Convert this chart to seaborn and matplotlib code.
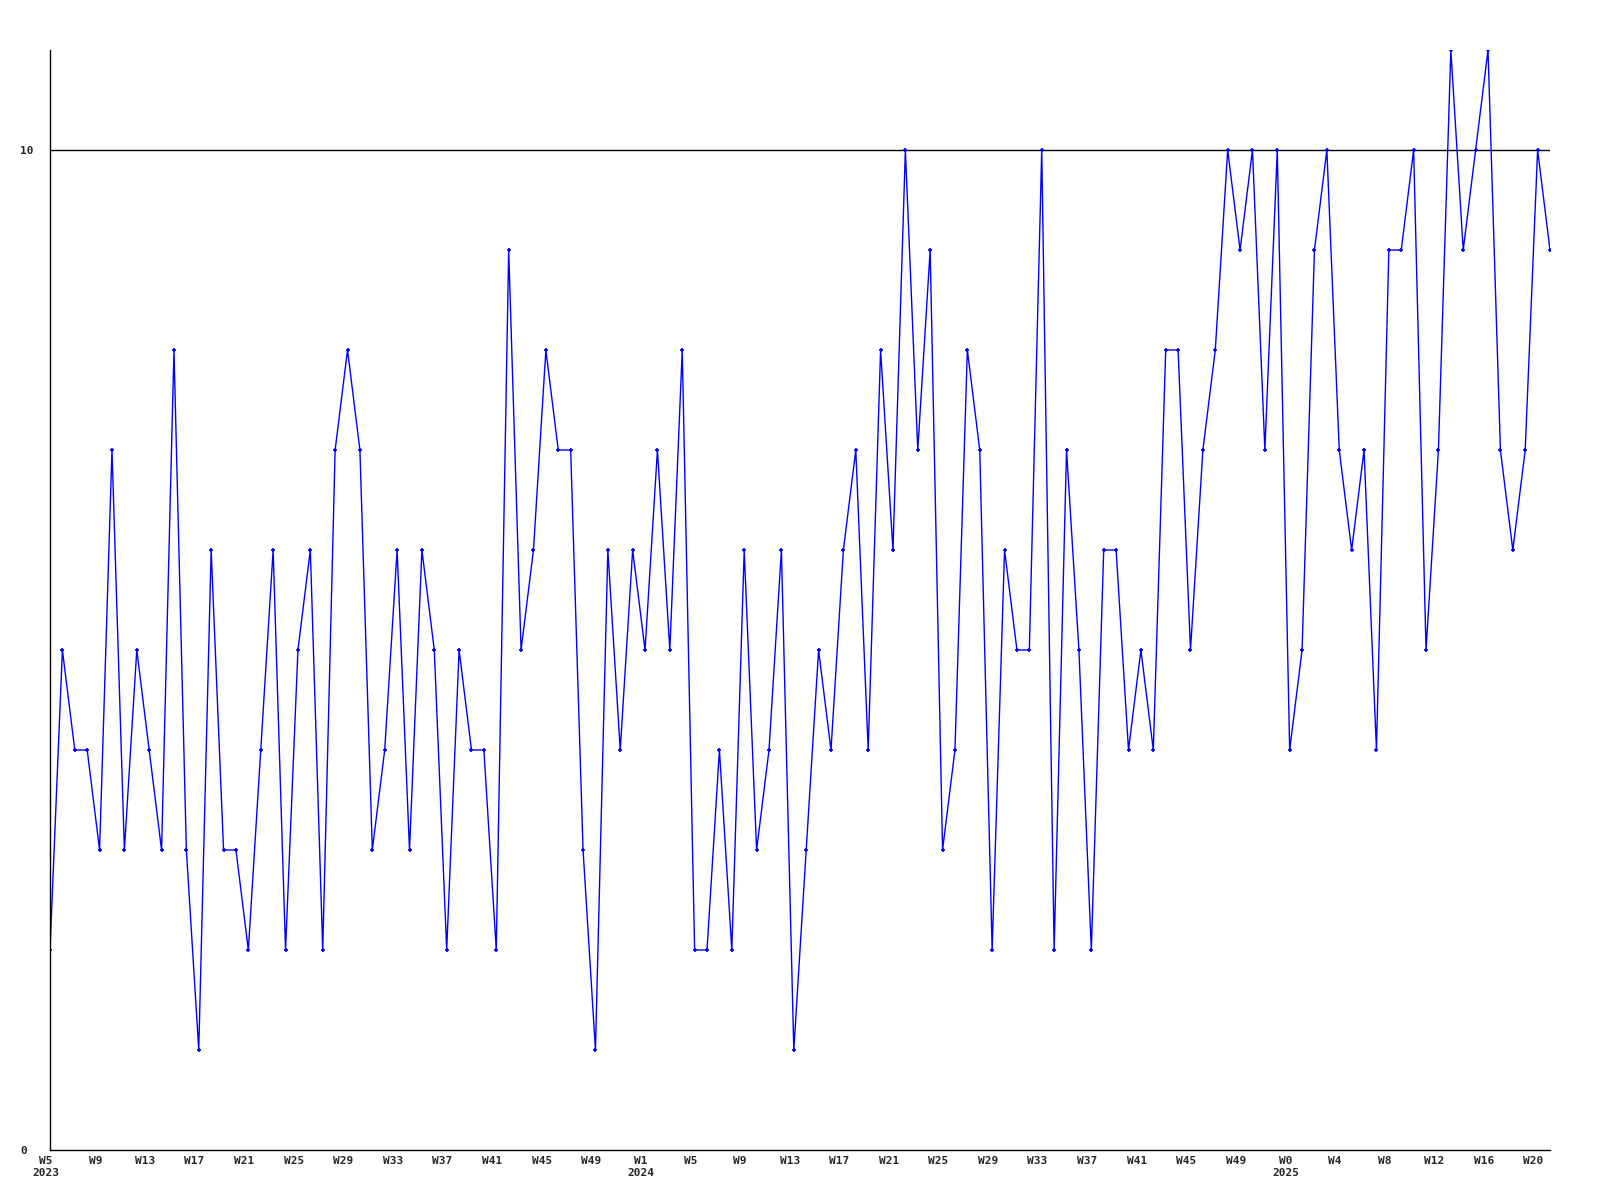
import matplotlib
matplotlib.use("Agg")
import matplotlib.pyplot as plt
import matplotlib.transforms as mtransforms
import seaborn as sns
import pandas as pd

# weekly values, W5 2023 .. W21 2025
values = [2, 5, 4, 4, 3, 7, 3, 5, 4, 3, 8, 3, 1, 6, 3, 3, 2, 4, 6, 2,
          5, 6, 2, 7, 8, 7, 3, 4, 6, 3, 6, 5, 2, 5, 4, 4, 2, 9, 5, 6,
          8, 7, 7, 3, 1, 6, 4, 6, 5, 7, 5, 8, 2, 2, 4, 2, 6, 3, 4, 6,
          1, 3, 5, 4, 6, 7, 4, 8, 6, 10, 7, 9, 3, 4, 8, 7, 2, 6, 5, 5,
          10, 2, 7, 5, 2, 6, 6, 4, 5, 4, 8, 8, 5, 7, 8, 10, 9, 10, 7, 10,
          4, 5, 9, 10, 7, 6, 7, 4, 9, 9, 10, 5, 7, 11, 9, 10, 11, 7, 6, 7,
          10, 9]

tick_pos = [0, 4, 8, 12, 16, 20, 24, 28, 32, 36, 40, 44,
            48, 52, 56, 60, 64, 68, 72, 76, 80, 84, 88, 92, 96,
            100, 104, 108, 112, 116, 120]
tick_labels = ["W5\n2023", "W9", "W13", "W17", "W21", "W25", "W29", "W33", "W37", "W41", "W45", "W49",
               "W1\n2024", "W5", "W9", "W13", "W17", "W21", "W25", "W29", "W33", "W37", "W41", "W45", "W49",
               "W0\n2025", "W4", "W8", "W12", "W16", "W20"]

df = pd.DataFrame({"week": range(len(values)), "value": values})

sns.set_style("white")
plt.rcParams["font.family"] = ["DejaVu Sans Mono"]

fig = plt.figure(figsize=(16, 12), dpi=100)
ax = fig.add_axes([50 / 1600, 50 / 1200, 1500 / 1600, 1100 / 1200])

ax.axhline(10, color="black", lw=1, zorder=1)
sns.lineplot(data=df, x="week", y="value", ax=ax, color="#0000ff", lw=1,
             marker="+", markersize=3, markeredgewidth=1.2, markeredgecolor="#0000ff", zorder=2)

ax.set_xlim(0, len(values) - 1)
ax.set_ylim(0, 11)
ax.set_xticks(tick_pos)
ax.set_xticklabels(tick_labels, fontsize=8, fontweight="bold", linespacing=1.3, va="top")
ax.set_yticks([0, 10])
ax.set_yticklabels(["0", "10"], fontsize=8, fontweight="bold", ha="left")
ax.tick_params(axis="y", length=0, pad=21.6)
ax.tick_params(axis="x", length=0, pad=4)
ax.set_xlabel("")
ax.set_ylabel("")

# labels sit a touch left of their week
shift = mtransforms.ScaledTranslation(-3 / 72, 0, fig.dpi_scale_trans)
for lab in ax.get_xticklabels():
    lab.set_transform(lab.get_transform() + shift)

for s in ["top", "right"]:
    ax.spines[s].set_visible(False)
for s in ["left", "bottom"]:
    ax.spines[s].set_color("black")
    ax.spines[s].set_linewidth(1)

fig.savefig("out.png", dpi=100, facecolor="white")
